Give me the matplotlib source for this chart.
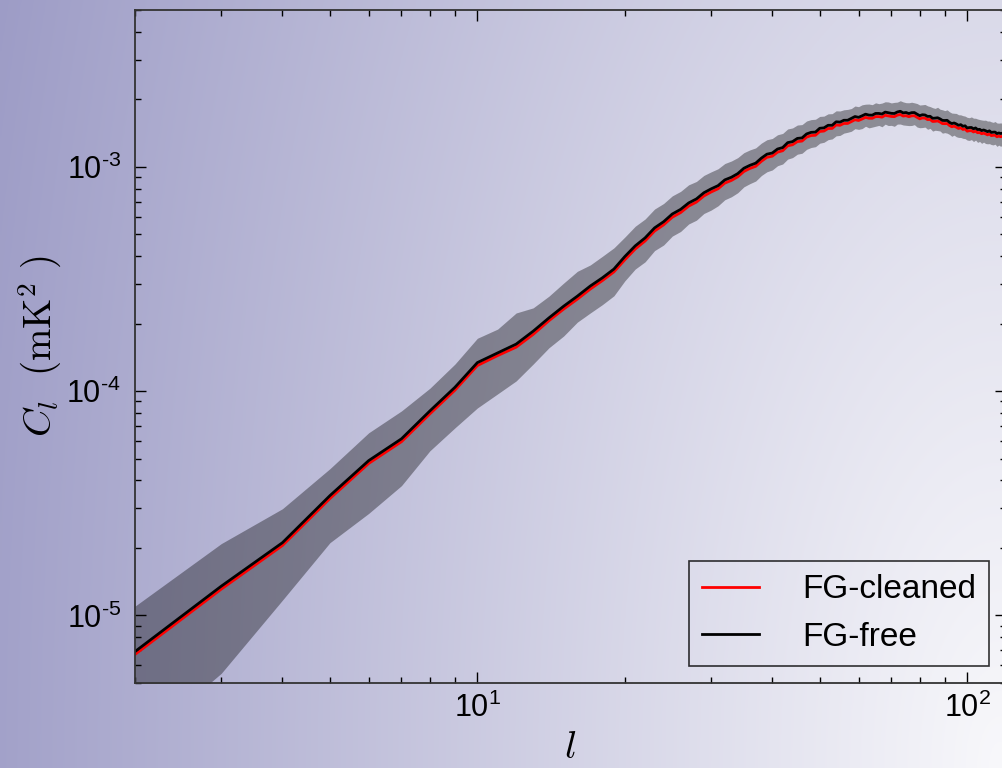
import numpy as np
import matplotlib
matplotlib.use('Agg')
import matplotlib.pyplot as plt
from matplotlib.ticker import FuncFormatter

plt.rcParams['font.family'] = ['Liberation Sans', 'DejaVu Sans']
plt.rcParams['mathtext.fontset'] = 'custom'
plt.rcParams['mathtext.rm'] = 'Liberation Sans'
plt.rcParams['mathtext.it'] = 'Liberation Sans:italic'
plt.rcParams['axes.unicode_minus'] = False

# multipoles
ell = np.arange(2, 121)

# power spectra, in units of 1e-5 mK^2
cl_free = np.array([
    0.69, 1.35, 2.11, 3.42, 4.90, 6.13, 8.16, 10.4, 13.4, 14.8,
    16.2, 18.5, 21.2, 23.9, 26.5, 29.4, 32.0, 35.0, 39.8, 44.4,
    48.2, 53.4, 56.9, 61.6, 64.6, 69.0, 71.9, 76.6, 79.7, 82.4,
    87.4, 89.8, 93.2, 98.5, 101.5, 103.8, 109.3, 113.8, 115.2, 120.0,
    121.8, 128.1, 129.5, 133.8, 134.5, 140.1, 142.4, 142.8, 148.5, 149.1,
    153.1, 153.1, 158.7, 158.2, 161.2, 161.2, 164.3, 167.5, 166.1, 168.7,
    171.6, 170.0, 169.9, 172.9, 172.9, 171.9, 175.3, 174.2, 173.1, 172.8,
    175.5, 176.8, 173.9, 174.6, 172.7, 174.3, 174.5, 171.6, 169.0, 170.6,
    170.2, 167.7, 167.9, 164.5, 164.8, 165.4, 163.5, 161.0, 160.8, 161.1,
    157.8, 155.8, 156.8, 155.2, 153.1, 154.1, 151.6, 152.3, 148.9, 149.6,
    149.7, 147.7, 149.0, 146.5, 146.9, 145.0, 145.9, 144.8, 143.4, 144.6,
    142.3, 142.7, 142.8, 140.6, 141.5, 140.7, 141.2, 139.6, 140.2])

cl_clean = np.array([
    0.67, 1.31, 2.05, 3.32, 4.76, 5.95, 7.92, 10.1, 13.0, 14.4,
    15.7, 17.9, 20.6, 23.2, 25.7, 28.5, 31.1, 34.0, 38.5, 43.0,
    46.7, 51.7, 55.1, 59.6, 62.5, 66.8, 69.6, 74.1, 77.2, 79.8,
    84.6, 86.9, 90.2, 95.3, 98.3, 100.5, 105.8, 110.2, 111.5, 116.2,
    117.9, 124.0, 125.4, 129.5, 130.2, 135.6, 137.8, 138.2, 143.7, 144.3,
    148.2, 148.2, 153.6, 153.1, 156.0, 156.0, 159.0, 162.1, 160.8, 163.3,
    166.1, 164.6, 164.5, 167.4, 167.4, 166.4, 169.7, 168.6, 167.6, 167.3,
    169.9, 171.1, 168.3, 169.0, 167.2, 168.7, 168.9, 166.1, 163.6, 165.1,
    164.8, 162.3, 162.5, 159.2, 159.5, 160.1, 158.3, 155.8, 155.7, 155.9,
    152.8, 150.8, 151.8, 150.2, 148.2, 149.2, 146.7, 147.4, 144.1, 144.8,
    144.9, 143.0, 144.2, 141.8, 142.2, 140.4, 141.2, 140.2, 138.8, 140.0,
    137.7, 138.1, 138.2, 136.1, 137.0, 136.2, 136.7, 135.1, 135.7])

# 1-sigma band of the FG-cleaned spectrum
band_hi = np.array([
    1.10, 2.09, 2.99, 4.51, 6.52, 8.16, 10.3, 13.2, 17.2, 18.9,
    22.3, 23.5, 26.5, 30.3, 34.2, 36.5, 39.9, 43.5, 48.6, 54.3,
    58.5, 64.8, 68.6, 74.2, 77.7, 83.1, 86.0, 91.5, 94.9, 98.0,
    103.4, 106.1, 109.8, 115.6, 118.9, 121.4, 127.5, 132.0, 133.7, 138.9,
    140.8, 147.4, 149.0, 153.5, 154.2, 160.0, 162.3, 162.9, 167.7, 168.2,
    172.2, 172.5, 177.6, 177.3, 179.5, 180.2, 181.8, 186.6, 185.3, 188.9,
    190.1, 190.4, 189.2, 192.8, 191.1, 192.3, 194.9, 194.5, 192.6, 193.7,
    194.2, 197.0, 194.6, 193.1, 192.9, 194.0, 192.8, 191.4, 188.5, 189.0,
    189.6, 186.9, 185.5, 183.4, 182.1, 184.2, 180.6, 179.5, 178.0, 179.4,
    175.9, 173.6, 173.2, 172.9, 170.6, 170.4, 169.0, 168.2, 166.1, 165.5,
    166.8, 164.7, 164.6, 163.3, 162.4, 161.7, 161.2, 161.4, 159.9, 160.0,
    158.6, 157.8, 159.1, 156.8, 156.5, 156.9, 156.2, 155.7, 155.1])

band_lo = np.array([
    0.26, 0.552, 1.17, 2.11, 2.85, 3.79, 5.42, 6.86, 8.41, 9.72,
    11.1, 13.2, 15.6, 17.6, 20.3, 22.3, 24.3, 26.6, 31.0, 35.0,
    37.7, 42.3, 44.8, 49.1, 51.5, 55.6, 57.8, 61.9, 64.1, 67.0,
    71.3, 73.5, 76.6, 81.4, 84.1, 86.4, 91.4, 95.0, 96.8, 101.1,
    102.9, 108.2, 109.9, 113.8, 114.9, 119.6, 121.9, 122.9, 127.4, 128.6,
    132.1, 133.1, 137.4, 138.0, 141.3, 142.5, 144.0, 147.9, 146.8, 148.0,
    151.6, 149.1, 150.3, 151.6, 152.9, 150.8, 154.9, 152.7, 153.0, 151.5,
    155.0, 155.1, 153.6, 153.1, 152.6, 152.8, 154.1, 150.4, 149.3, 149.6,
    150.3, 147.0, 148.3, 144.2, 145.5, 145.0, 144.4, 141.2, 142.0, 141.2,
    139.4, 136.7, 138.4, 136.1, 135.2, 135.1, 133.9, 133.5, 131.5, 131.1,
    132.2, 129.6, 131.5, 128.5, 129.7, 127.2, 128.8, 127.0, 126.6, 126.8,
    125.6, 125.2, 126.1, 123.3, 124.9, 123.4, 124.7, 122.5, 123.0])

labels = ['FG-cleaned', 'FG-free']

fig = plt.figure(figsize=(10.02, 7.68), dpi=100)

# gradient background: light corner at bottom right, lavender on the left
bg = fig.add_axes([0, 0, 1, 1], zorder=0)
u, v = np.meshgrid(np.linspace(1, 0, 400), np.linspace(1, 0, 300))
t = np.clip(np.sqrt(0.8 * u**2 + 0.1 * v**2) * 1.05, 0, 1)[..., None]
c0 = np.array([248, 248, 251]) / 255.
c1 = np.array([157, 156, 198]) / 255.
bg.imshow(c0 * (1 - t) + c1 * t, aspect='auto', extent=[0, 1, 0, 1], origin='upper')
bg.axis('off')

ax = fig.add_axes([0.1347, 0.1107, 0.8693, 0.8763], zorder=1)
ax.patch.set_visible(False)

s = 1e-5
ax.fill_between(ell, band_lo * s, band_hi * s, color='k', alpha=0.36, lw=0)
ax.plot(ell, cl_clean * s, color='red', lw=2, label=labels[0])
ax.plot(ell, cl_free * s, color='black', lw=2, label=labels[1])

ax.set_xscale('log')
ax.set_yscale('log')
ax.set_xlim(2, 120)
ax.set_ylim(5e-6, 5e-3)


def puissance(val, pos):
    e = int(round(np.log10(val)))
    txt = str(e).replace('-', r'\text{-}')
    return r'$10^{%s}$' % txt


ax.xaxis.set_major_formatter(FuncFormatter(puissance))
ax.yaxis.set_major_formatter(FuncFormatter(puissance))

ax.tick_params(which='both', direction='in', top=True, right=True, labelsize=22)
ax.tick_params(which='major', length=8, width=1)
ax.tick_params(which='minor', length=4, width=1)
ax.tick_params(axis='x', pad=7)
ax.tick_params(axis='y', pad=10)
for sp in ax.spines.values():
    sp.set_linewidth(1.3)
    sp.set_color('#333333')

ax.set_xlabel(r'$l$', fontsize=28, math_fontfamily='cm', labelpad=4)
ax.set_ylabel(r'$C_l\ \ (\mathrm{mK}^2\ )$', fontsize=28, math_fontfamily='cm', labelpad=2)

leg = ax.legend(loc='lower right', fontsize=24, fancybox=False, frameon=True,
                handlelength=1.7, handletextpad=1.3, labelspacing=0.5, borderpad=0.4)
leg.get_frame().set_facecolor('none')
leg.get_frame().set_edgecolor('black')
leg.get_frame().set_linewidth(1.2)

plt.savefig('out.png', dpi=100)
